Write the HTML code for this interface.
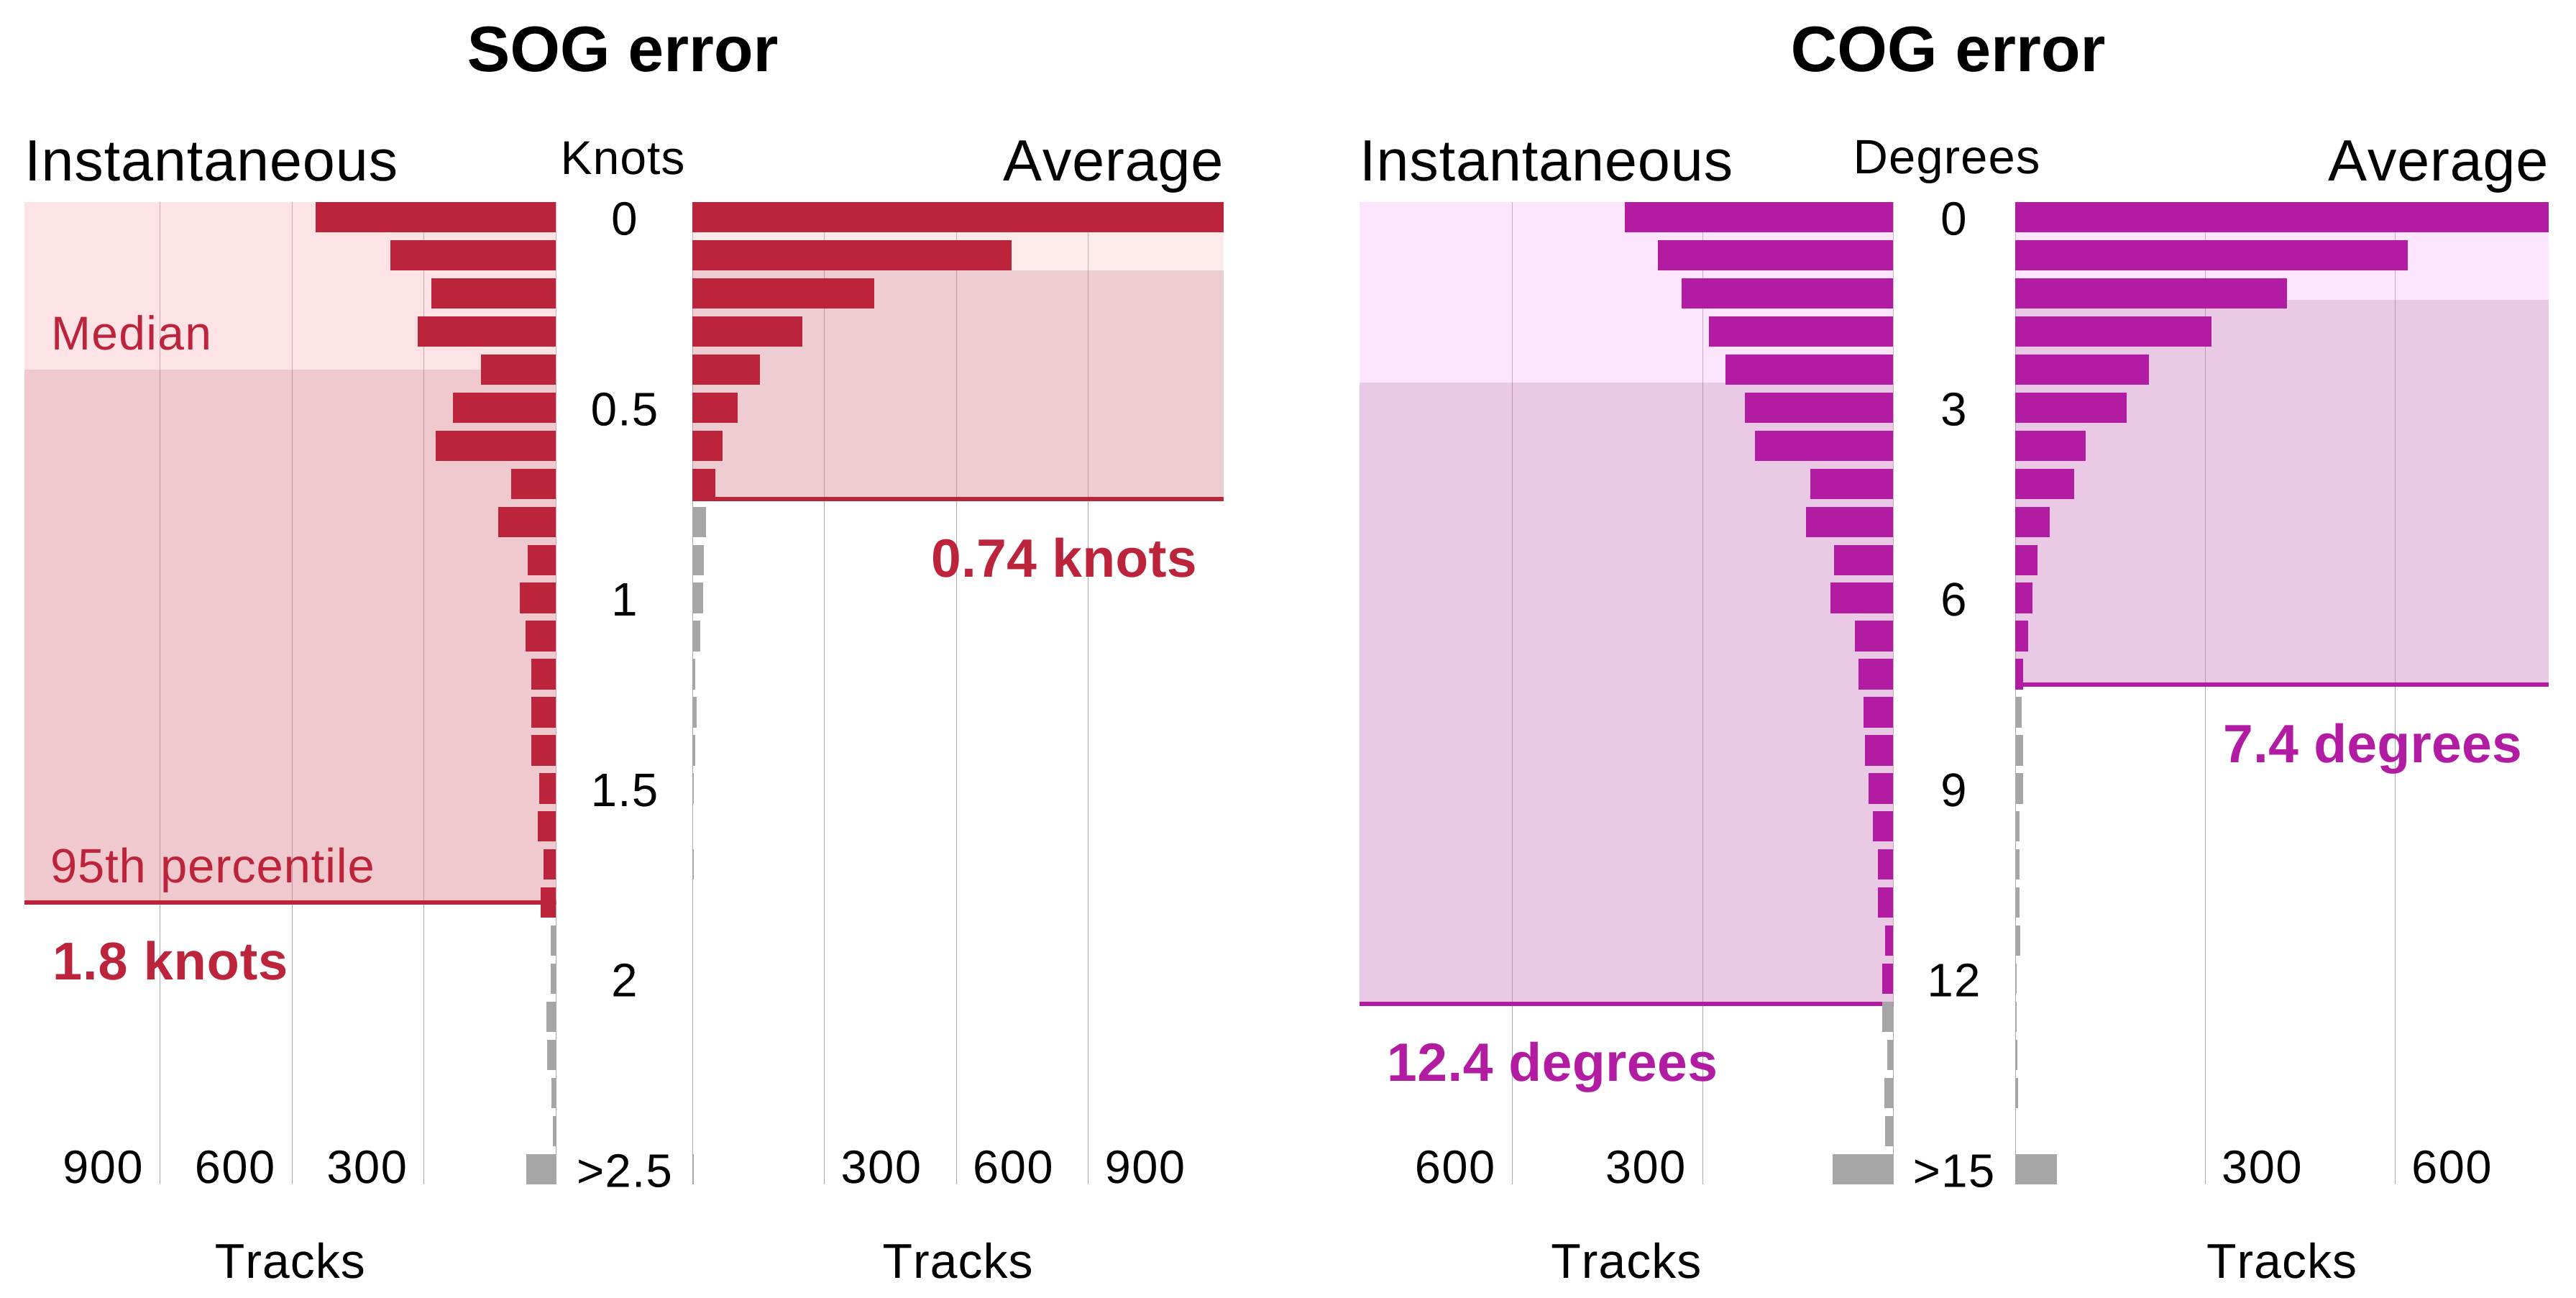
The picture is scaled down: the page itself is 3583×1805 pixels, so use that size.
<!DOCTYPE html>
<html lang="en">
<head>
<meta charset="utf-8">
<title>SOG and COG error</title>
<style>
  html, body { margin: 0; padding: 0; background: #ffffff; }
  body { width: 3583px; height: 1805px; overflow: hidden; }
  svg { display: block; }
  text { font-family: "Liberation Sans", Arial, sans-serif; font-kerning: none; text-rendering: geometricPrecision; fill: #000; }
  .bold { font-weight: 700; }
</style>
</head>
<body>
<svg id="chart" xmlns="http://www.w3.org/2000/svg" width="3583" height="1805" viewBox="0 0 3583 1805">
  <rect x="0" y="0" width="3583" height="1805" fill="#ffffff"/>
  <g id="panels"></g>
  <text class="bold" x="866" y="99" font-size="89.5" text-anchor="middle">SOG error</text>
  <text class="bold" x="2709.5" y="99" font-size="89.5" text-anchor="middle">COG error</text>
  <text x="34" y="251" font-size="81" letter-spacing="0.85">Instantaneous</text>
  <text x="1702" y="251" font-size="81" letter-spacing="0.75" text-anchor="end">Average</text>
  <text x="1891" y="251" font-size="81" letter-spacing="0.85">Instantaneous</text>
  <text x="3545" y="251" font-size="81" letter-spacing="0.75" text-anchor="end">Average</text>
  <text x="866.5" y="242" font-size="66" letter-spacing="1" text-anchor="middle">Knots</text>
  <text x="2708" y="241" font-size="67" letter-spacing="1.1" text-anchor="middle">Degrees</text>
  <text x="71" y="486" font-size="66" letter-spacing="1.3" style="fill:#bb243b">Median</text>
  <text x="70" y="1227" font-size="67" letter-spacing="0.8" style="fill:#bb243b">95th percentile</text>
  <text class="bold" x="73" y="1362" font-size="74" letter-spacing="0.8" style="fill:#bb243b">1.8 knots</text>
  <text class="bold" x="1295" y="802" font-size="75" letter-spacing="0.3" style="fill:#bb243b">0.74 knots</text>
  <text class="bold" x="1929" y="1503" font-size="75" letter-spacing="0.5" style="fill:#b21ca3">12.4 degrees</text>
  <text class="bold" x="3092" y="1060" font-size="75" letter-spacing="0.3" style="fill:#b21ca3">7.4 degrees</text>
</svg>
<script>
// Chart data
const sogInstantTracks = [547, 377, 283, 315, 171, 234, 274, 102, 132, 65, 83, 70, 56, 57, 56, 39, 42, 29, 35, 13, 13, 22, 21, 10, 8, 67];
const sogAverageTracks = [1208, 725, 414, 250, 154, 103, 68, 53, 31, 26, 24, 18, 7, 10, 7, 3, 0, 3, 0, 0, 0, 0, 0, 0, 0, 3];
const cogInstantTracks = [423, 371, 333, 290, 264, 234, 218, 131, 137, 93, 99, 61, 55, 47, 45, 39, 32, 24, 24, 13, 17, 18, 10, 14, 13, 96];
const cogAverageTracks = [843, 620, 430, 310, 211, 176, 111, 93, 55, 35, 27, 21, 13, 10, 13, 13, 7, 7, 7, 8, 2, 2, 3, 5, 0, 66];
const sogBinWidth = 0.1;
const cogBinWidth = 0.6;
const sogTickValues = [300, 600, 900];
const cogTickValues = [300, 600];
const sogRowLabels = ['0', '0.5', '1', '1.5', '2', '>2.5'];
const cogRowLabels = ['0', '3', '6', '9', '12', '>15'];
const rowLabelStep = 5;
const sogInstantStats = [0.4, 1.8];
const sogAverageStats = [0.14, 0.74];
const cogInstantStats = [2.6, 12.4];
const cogAverageStats = [1.3, 7.36];

const NS = 'http://www.w3.org/2000/svg';
const root = document.getElementById('panels');
const TOP = 281, BOTTOM = 1647, ROWS = 26, BAND = 0.8;
const STEP = (BOTTOM - TOP) / (ROWS - 1 + BAND);
const BAR_H = STEP * BAND;
const GREY = '#a6a6a6';

function el(tag, attrs, parent) {
  const n = document.createElementNS(NS, tag);
  for (const k in attrs) n.setAttribute(k, attrs[k]);
  parent.appendChild(n);
  return n;
}
function rowTop(i) { return TOP + i * STEP; }
function yOfValue(v, binWidth) { return rowTop(v / binWidth) + BAR_H / 2; }

function drawPanel(p) {
  const g = el('g', {}, root);
  
  
  const width = p.right - p.left;
  const zero = p.dir < 0 ? p.right : p.left;
  const xOf = v => zero + p.dir * Math.min(v, p.domain) / p.domain * width;
  const yMed = Math.round(yOfValue(p.stats[0], p.bin));
  const yP95 = Math.round(yOfValue(p.stats[1], p.bin));

  const light = el('rect', { x: p.left, y: TOP, width: width, height: yMed - TOP, fill: p.light }, g);
  
  
  const dark = el('rect', { x: p.left, y: yMed, width: width, height: yP95 - yMed, fill: p.dark }, g);
  
  

  [0].concat(p.ticks).forEach(t => {
    const gx = Math.floor(xOf(t));
    const inner = el('rect', { x: gx, y: TOP, width: 1, height: yP95 - TOP, fill: 'rgba(60,20,40,0.27)' }, g);
    
    
    const outer = el('rect', { x: gx, y: yP95, width: 1, height: BOTTOM - yP95, fill: '#a8a8a8' }, g);
    
    
  });

  const line = el('rect', { x: p.left, y: yP95 - 3, width: width, height: 6, fill: p.color }, g);
  
  

  p.values.forEach((v, i) => {
    if (v <= 0) return;
    const isCore = i * p.bin <= p.stats[1] && i < ROWS - 1;
    const a = xOf(0), b = xOf(v);
    const y0 = Math.round(rowTop(i)), y1 = Math.round(rowTop(i) + BAR_H);
    const x0 = Math.round(Math.min(a, b));
    const x1 = p.dir < 0 ? Math.floor(Math.max(a, b)) : Math.round(Math.max(a, b));
    const bar = el('rect', { x: x0, y: y0, width: Math.max(x1 - x0, 1), height: y1 - y0, fill: isCore ? p.color : GREY }, g);
    
    
  });

  p.ticks.forEach(t => {
    const tx = xOf(t) + (p.dir < 0 ? -22.5 : 23);
    const lab = el('text', { x: tx, y: 1645, 'font-size': 65, 'letter-spacing': 1.5, 'text-anchor': p.dir < 0 ? 'end' : 'start' }, g);
    lab.textContent = String(t);
    
    
  });

  const title = el('text', { x: (p.left + p.right) / 2, y: 1777, 'font-size': 68, 'letter-spacing': 1, 'text-anchor': 'middle' }, g);
  title.textContent = 'Tracks';
  
  
}

function drawRowLabels(labels, cx, name) {
  labels.forEach((txt, k) => {
    const i = k * rowLabelStep;
    const t = el('text', { x: cx, y: rowTop(i) + BAR_H / 2 + 24.5, 'font-size': 65.5, 'letter-spacing': 1.2, 'text-anchor': 'middle' }, root);
    t.textContent = txt;
    
    
  });
}

const RED = '#bb243b', PURPLE = '#b21ca3';
drawPanel({ name: 'sog-instantaneous', left: 34, right: 773.5, dir: -1, domain: 1208, values: sogInstantTracks, ticks: sogTickValues, stats: sogInstantStats, bin: sogBinWidth, color: RED, light: '#fde3e5', dark: '#f0c9cf' });
drawPanel({ name: 'sog-average', left: 963, right: 1702, dir: 1, domain: 1208, values: sogAverageTracks, ticks: sogTickValues, stats: sogAverageStats, bin: sogBinWidth, color: RED, light: '#fdeaea', dark: '#edcdd1' });
drawPanel({ name: 'cog-instantaneous', left: 1891, right: 2633.5, dir: -1, domain: 840, values: cogInstantTracks, ticks: cogTickValues, stats: cogInstantStats, bin: cogBinWidth, color: PURPLE, light: '#fde5fd', dark: '#e9c9e3' });
drawPanel({ name: 'cog-average', left: 2803, right: 3545, dir: 1, domain: 843, values: cogAverageTracks, ticks: cogTickValues, stats: cogAverageStats, bin: cogBinWidth, color: PURPLE, light: '#fde5fd', dark: '#e9c9e3' });
drawRowLabels(sogRowLabels, 869, 'knots');
drawRowLabels(cogRowLabels, 2718, 'degrees');
</script>
</body>
</html>
